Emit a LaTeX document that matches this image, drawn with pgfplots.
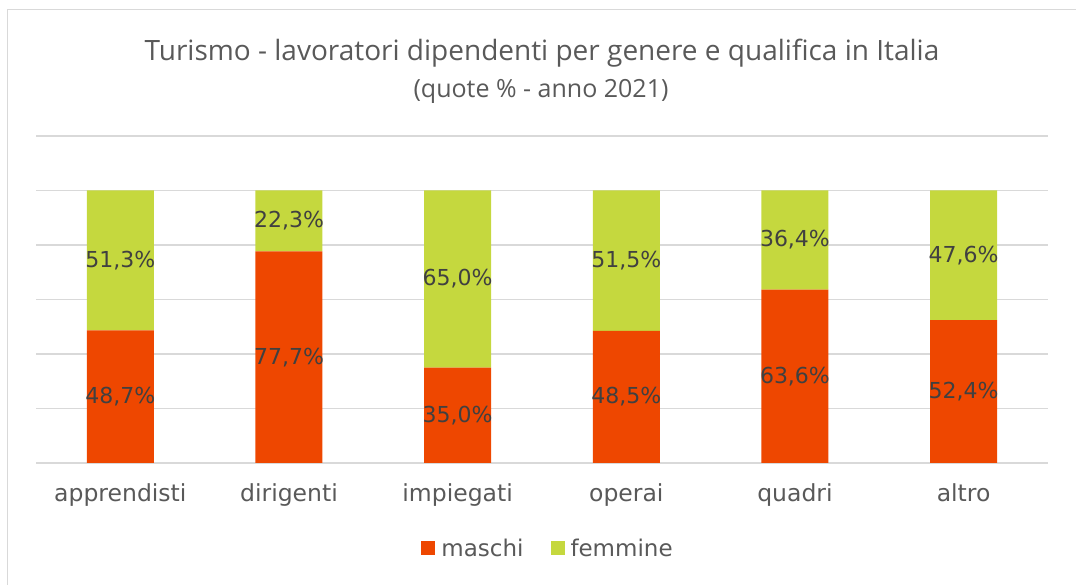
\documentclass[border=0pt]{standalone}
\usepackage{fontspec}
\setmainfont{DejaVu Sans}
\newfontfamily\titlefont{Open Sans}
\usepackage{pgfplots}
\pgfplotsset{compat=1.18}
\definecolor{cm}{RGB}{238,71,0}
\definecolor{cf}{RGB}{197,216,62}
\definecolor{gridc}{RGB}{217,217,217}
\definecolor{txt}{RGB}{89,89,89}
\definecolor{lab}{RGB}{64,64,64}
\begin{document}
\begin{tikzpicture}[x=1pt,y=1pt]
\useasboundingbox (0,0) rectangle (1076,585);
\draw[gridc, line width=1.5pt] (7.5,-2) -- (7.5,575.5) -- (1080,575.5);
\node[font=\titlefont\fontsize{28}{32}\selectfont, text=txt, anchor=base, inner sep=0pt] at (542,524) {Turismo - lavoratori dipendenti per genere e qualifica in Italia};
\node[font=\titlefont\fontsize{25}{29}\selectfont, text=txt, anchor=base, inner sep=0pt] at (541,487) {(quote \% - anno 2021)};
\begin{axis}[at={(36pt,122pt)}, anchor=south west, width=1012pt, height=327pt, scale only axis,
  xmin=-0.5, xmax=5.5, ymin=0, ymax=120, ybar stacked, bar width=67pt,
  axis line style={draw=none}, ytick={0,20,...,120}, yticklabels={}, ymajorgrids,
  grid style={gridc, line width=1.5pt}, major tick length=0pt,
  xtick={0,...,5}, xticklabels={apprendisti,dirigenti,impiegati,operai,quadri,altro},
  xticklabel style={font=\fontsize{23.5}{28}\selectfont, text=txt, anchor=base, yshift=-39pt},
  legend style={at={(axis description cs:0.506,-0.26)}, anchor=center, draw=none, fill=none,
    legend columns=2, font=\fontsize{23}{28}\selectfont, text=txt,
    /tikz/every even column/.append style={column sep=25pt}},
  legend image code/.code={\fill[#1] (0pt,-7pt) rectangle (14pt,7pt); \path (18pt,0pt);},
]
\addplot[fill=cm, draw=none] coordinates {(0,48.7) (1,77.7) (2,35.0) (3,48.5) (4,63.6) (5,52.4)};
\addplot[fill=cf, draw=none] coordinates {(0,51.3) (1,22.3) (2,65.0) (3,51.5) (4,36.4) (5,47.6)};
\legend{maschi,femmine}
\end{axis}
\begin{axis}[at={(36pt,122pt)}, anchor=south west, width=1012pt, height=327pt, scale only axis,
  xmin=-0.5, xmax=5.5, ymin=0, ymax=120, hide axis,
  nodes near coords style={anchor=center, font=\fontsize{22}{26}\selectfont, text=lab}]
\addplot[draw=none, mark=none, nodes near coords, point meta=explicit symbolic] table[meta=l] {
x y l
0 24.35 48,7\%
1 38.85 77,7\%
2 17.5 35,0\%
3 24.25 48,5\%
4 31.8 63,6\%
5 26.2 52,4\%
0 74.35 51,3\%
1 88.85 22,3\%
2 67.5 65,0\%
3 74.25 51,5\%
4 81.8 36,4\%
5 76.2 47,6\%
};
\end{axis}
\end{tikzpicture}
\end{document}
